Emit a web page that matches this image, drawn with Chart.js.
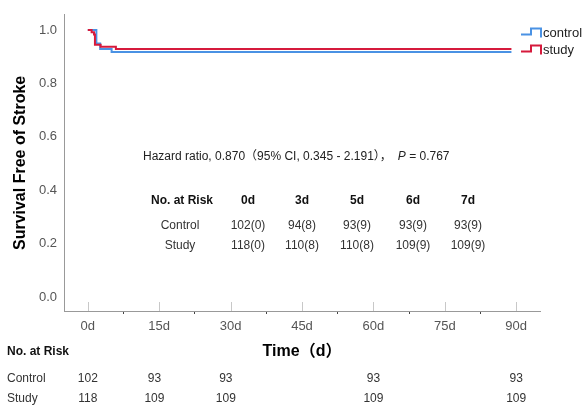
<!DOCTYPE html>
<html lang="en">

<head>
    <meta charset="UTF-8">
    <script src="https://cdn.jsdelivr.net/npm/chart.js"></script>
    <title>Survival Free of Stroke</title>
    <style>
        body { margin: 0; background: #fff; }
    </style>
</head>

<body>
    <canvas id="myChart" width="585" height="406"></canvas>
</body>

<script>
    // Kaplan-Meier steps (time in days)
    const studyTimes = [0, 0.8, 1.3, 1.5, 2.7, 5.9, 89];
    const studySurv = [1.0, 0.992, 0.983, 0.945, 0.937, 0.929, 0.929];
    const controlTimes = [0, 1.8, 2.6, 5.0, 89];
    const controlSurv = [1.0, 0.95, 0.929, 0.918, 0.918];

    const xTicks = [0, 7.5, 15, 22.5, 30, 37.5, 45, 52.5, 60, 67.5, 75, 82.5, 90];
    const yTicks = [0, 0.2, 0.4, 0.6, 0.8, 1.0];

    // inner table (early days)
    const earlyDays = ['0d', '3d', '5d', '6d', '7d'];
    const earlyControl = ['102(0)', '94(8)', '93(9)', '93(9)', '93(9)'];
    const earlyStudy = ['118(0)', '110(8)', '110(8)', '109(9)', '109(9)'];

    // bottom table (number at risk under the time axis)
    const riskTimes = [0, 14, 29, 60, 90];
    const riskControl = ['102', '93', '93', '93', '93'];
    const riskStudy = ['118', '109', '109', '109', '109'];

    const hazardText = 'Hazard ratio, 0.870（95% CI, 0.345 - 2.191），';
    const pText = ' = 0.767';

    const blue = 'rgb(74, 146, 228)';
    const red = 'rgb(214, 26, 60)';
    const FONT = "'Liberation Sans', Arial, 'Noto Sans CJK SC', sans-serif";

    function toPoints(xs, ys) {
        return xs.map((x, i) => ({ x: x, y: ys[i] }));
    }

    const extras = {
        id: 'extras',
        afterDraw(chart) {
            const ctx = chart.ctx;
            const xs = chart.scales.x;
            const area = chart.chartArea;
            ctx.save();

            // light ticks above the axis at the labelled days
            ctx.strokeStyle = '#c8c8c8';
            ctx.lineWidth = 1;
            xTicks.filter(v => v % 15 === 0).forEach(v => {
                const px = Math.round(xs.getPixelForValue(v)) + 0.5;
                ctx.beginPath();
                ctx.moveTo(px, area.bottom - 9);
                ctx.lineTo(px, area.bottom);
                ctx.stroke();
            });

            // legend with step glyphs
            const legend = [['control', blue, 34.5], ['study', red, 51.5]];
            ctx.lineWidth = 2;
            ctx.font = '13px ' + FONT;
            ctx.textBaseline = 'middle';
            ctx.textAlign = 'left';
            legend.forEach(([name, col, y]) => {
                ctx.strokeStyle = col;
                ctx.beginPath();
                ctx.moveTo(521, y);
                ctx.lineTo(531, y);
                ctx.lineTo(531, y - 6);
                ctx.lineTo(541, y - 6);
                ctx.lineTo(541, y + 3);
                ctx.stroke();
                ctx.fillStyle = '#222';
                ctx.fillText(name, 543, y - 1);
            });

            // hazard ratio
            ctx.font = '12px ' + FONT;
            ctx.fillStyle = '#222';
            ctx.fillText(hazardText, 143, 157);
            let w = ctx.measureText(hazardText).width;
            ctx.font = 'italic 12px ' + FONT;
            ctx.fillText('P', 143 + w + 6, 157);
            const pw = ctx.measureText('P').width;
            ctx.font = '12px ' + FONT;
            ctx.fillText(pText, 143 + w + 6 + pw, 157);

            // inner table
            const colX = [248, 302, 357, 413, 468];
            ctx.textAlign = 'center';
            ctx.font = 'bold 12px ' + FONT;
            ctx.fillStyle = '#111';
            ctx.fillText('No. at Risk', 182, 201);
            earlyDays.forEach((d, i) => ctx.fillText(d, colX[i], 201));
            ctx.font = '12px ' + FONT;
            ctx.fillStyle = '#333';
            ctx.fillText('Control', 180, 226);
            ctx.fillText('Study', 180, 246);
            earlyControl.forEach((v, i) => ctx.fillText(v, colX[i], 226));
            earlyStudy.forEach((v, i) => ctx.fillText(v, colX[i], 246));

            // bottom table
            ctx.textAlign = 'left';
            ctx.font = 'bold 12px ' + FONT;
            ctx.fillStyle = '#111';
            ctx.fillText('No. at Risk', 7, 352);
            ctx.font = '12px ' + FONT;
            ctx.fillStyle = '#333';
            ctx.fillText('Control', 7, 379);
            ctx.fillText('Study', 7, 399);
            ctx.textAlign = 'center';
            riskTimes.forEach((t, i) => {
                const px = xs.getPixelForValue(t);
                ctx.fillText(riskControl[i], px, 379);
                ctx.fillText(riskStudy[i], px, 399);
            });
            ctx.restore();
        }
    };

    var ctx = document.getElementById('myChart').getContext('2d');
    var myChart = new Chart(ctx, {
        type: 'line',
        data: {
            datasets: [{
                label: 'study',
                data: toPoints(studyTimes, studySurv),
                borderColor: red,
                borderWidth: 2,
                pointRadius: 0,
                stepped: true,
                order: 0
            }, {
                label: 'control',
                data: toPoints(controlTimes, controlSurv),
                borderColor: blue,
                borderWidth: 2,
                pointRadius: 0,
                stepped: true,
                order: 1
            }]
        },
        plugins: [extras],
        options: {
            responsive: false,
            animation: false,
            devicePixelRatio: 1,
            layout: { padding: { top: 13, right: 45, left: 0, bottom: 0 } },
            plugins: {
                legend: { display: false },
                tooltip: { enabled: false }
            },
            scales: {
                x: {
                    type: 'linear',
                    min: -5,
                    max: 95,
                    afterBuildTicks: (s) => { s.ticks = xTicks.map(v => ({ value: v })); },
                    afterFit: (s) => { s.height = 95; },
                    border: { color: '#999', width: 1 },
                    grid: {
                        drawOnChartArea: false,
                        tickLength: 3,
                        color: (c) => (c.tick && c.tick.value % 15 !== 0) ? '#444' : 'rgba(0,0,0,0)'
                    },
                    ticks: {
                        autoSkip: false,
                        maxRotation: 0,
                        padding: 5,
                        color: '#555',
                        font: { family: FONT, size: 13 },
                        callback: (v) => v % 15 === 0 ? v + 'd' : ''
                    },
                    title: {
                        display: true,
                        text: 'Time（d）',
                        color: '#000',
                        font: { family: FONT, size: 16, weight: 'bold' },
                        padding: { top: 0, bottom: 45 }
                    }
                },
                y: {
                    min: -0.052,
                    max: 1.057,
                    afterBuildTicks: (s) => { s.ticks = yTicks.map(v => ({ value: v })); },
                    afterFit: (s) => { s.width = 64; },
                    border: { color: '#999', width: 1 },
                    grid: { drawOnChartArea: false, drawTicks: false },
                    ticks: {
                        padding: 7,
                        color: '#555',
                        font: { family: FONT, size: 13 },
                        callback: (v) => v.toFixed(1)
                    },
                    title: {
                        display: true,
                        text: 'Survival Free of Stroke',
                        color: '#000',
                        font: { family: FONT, size: 16, weight: 'bold' },
                        padding: { top: 11, bottom: 0 }
                    }
                }
            }
        }
    });
</script>

</html>
